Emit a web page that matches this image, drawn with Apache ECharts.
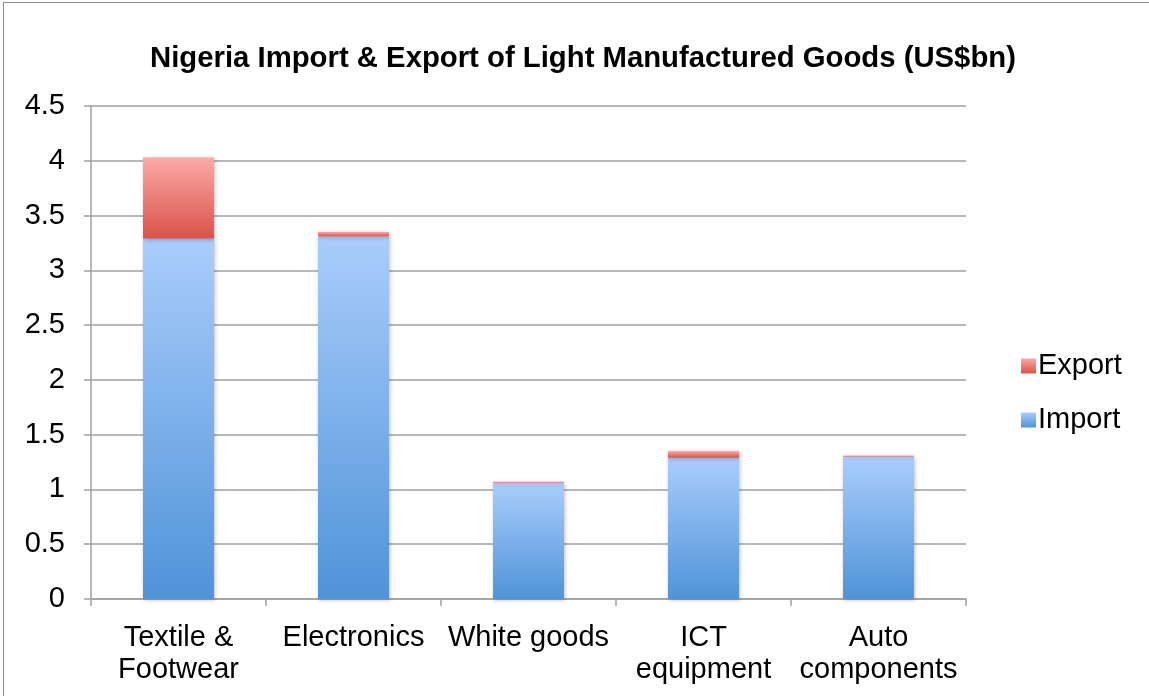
<!DOCTYPE html>
<html><head><meta charset="utf-8">
<script src="https://cdn.jsdelivr.net/npm/echarts@6/dist/echarts.min.js"></script>
<style>
html,body{margin:0;padding:0;background:#fff;}
#frame{position:absolute;left:3px;top:2px;width:1160px;height:710px;border:1px solid #8c8c8c;box-sizing:border-box;}
#c{position:absolute;left:0;top:0;width:1149px;height:696px;}
</style></head>
<body><div id="frame"></div><div id="c"></div>
<script>
const categories = ['Textile &\nFootwear', 'Electronics', 'White goods', 'ICT\nequipment', 'Auto\ncomponents'];
const importValues = [3.29, 3.31, 1.06, 1.29, 1.30];
const exportValues = [0.74, 0.04, 0.01, 0.06, 0.01];
const yTicks = [0, 0.5, 1, 1.5, 2, 2.5, 3, 3.5, 4, 4.5];

const font = 'Liberation Sans, Arial, Helvetica, sans-serif';
const chart = echarts.init(document.getElementById('c'));
const grad = (top, bot) => new echarts.graphic.LinearGradient(0, 0, 0, 1, [{offset: 0, color: top}, {offset: 1, color: bot}]);
chart.setOption({
  animation: false,
  title: {
    text: 'Nigeria Import & Export of Light Manufactured Goods (US$bn)',
    left: 578, top: 39, textAlign: 'center',
    textStyle: {fontFamily: font, fontSize: 29.3, fontWeight: 'bold', color: '#000'}
  },
  legend: {
    data: ['Export', 'Import'],
    orient: 'vertical', left: 1016, top: 346,
    itemWidth: 15, itemHeight: 15, itemGap: 24,
    icon: 'rect',
    textStyle: {fontFamily: font, fontSize: 29, lineHeight: 30, color: '#000', padding: [0, 0, 0, -3]}
  },
  grid: {left: 91, right: 183, top: 106, bottom: 97, containLabel: false},
  xAxis: {
    type: 'category', data: categories,
    axisLine: {lineStyle: {color: '#a0a0a0', width: 1.5}},
    axisTick: {show: true, length: 7, lineStyle: {color: '#a0a0a0', width: 1.5}, alignWithLabel: false},
    axisLabel: {fontFamily: font, fontSize: 29, color: '#000', margin: 23, lineHeight: 32, interval: 0}
  },
  yAxis: {
    type: 'value', min: 0, max: 4.5, interval: 0.5,
    axisLine: {show: true, lineStyle: {color: '#a0a0a0', width: 1.5}},
    axisTick: {show: true, length: 7, lineStyle: {color: '#a0a0a0', width: 1.5}},
    splitLine: {lineStyle: {color: '#a0a0a0', width: 1.5}},
    axisLabel: {fontFamily: font, fontSize: 29, color: '#000', margin: 26,
      formatter: v => { const t = yTicks.find(x => Math.abs(x - v) < 1e-9); return t === undefined ? '' : String(t); }}
  },
  series: [
    {
      name: 'Import', type: 'bar', stack: 'total', barWidth: 71, data: importValues,
      itemStyle: {color: grad('#aacdfc', '#4f93d8'), shadowColor: 'rgba(0,0,0,0.25)', shadowBlur: 4, shadowOffsetX: 1, shadowOffsetY: 1}
    },
    {
      name: 'Export', type: 'bar', stack: 'total', barWidth: 71, data: exportValues,
      itemStyle: {color: grad('#fcaaa8', '#d95249'), shadowColor: 'rgba(0,0,0,0.25)', shadowBlur: 4, shadowOffsetX: 1, shadowOffsetY: 1}
    }
  ]
});
</script></body></html>
